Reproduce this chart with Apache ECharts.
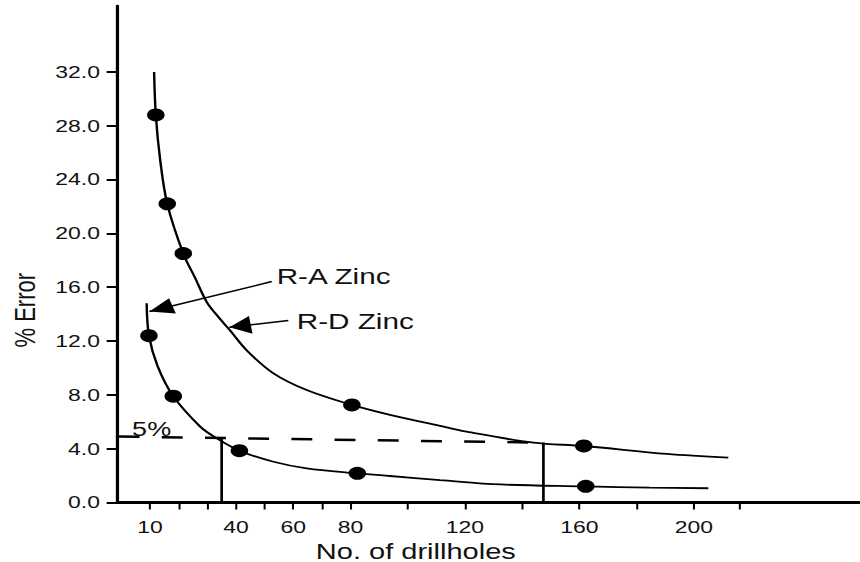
<!DOCTYPE html>
<html><head><meta charset="utf-8">
<script src="https://cdn.jsdelivr.net/npm/echarts@6/dist/echarts.min.js"></script>
<style>
html,body{margin:0;padding:0;background:#fff;overflow:hidden;width:860px;height:562px;}
#wrap{width:860px;height:562px;overflow:hidden;}
#main{width:637px;height:562px;transform:scaleX(1.35008);transform-origin:0 0;}
</style></head><body><div id="wrap"><div id="main"></div></div>
<script>
// ---- data ----
const xTickValues = [10, 20, 30, 40, 50, 60, 70, 80, 100, 120, 140, 160, 180, 200, 216];
const xLabelValues = [10, 40, 60, 80, 120, 160, 200];
const yTickValues = [0, 4, 8, 12, 16, 20, 24, 28, 32];

const rdPointX = [12.0, 16.0, 21.6, 80.5, 161.5];
const rdPointY = [28.8, 22.2, 18.5, 7.25, 4.2];
const raPointX = [9.6, 18.1, 41.2, 82.4, 162.2];
const raPointY = [12.4, 7.9, 3.85, 2.17, 1.2];

const rdCurveX = [11.4, 12.0, 13.5, 16.0, 21.6, 25.7, 29.8, 33.8, 37.9, 43.8, 53.1, 64.7, 80.5, 93.8, 111.3, 120.6, 143.9, 161.5, 190.5, 212.0];
const rdCurveY = [32.0, 28.8, 25.5, 22.2, 18.5, 16.7, 14.9, 13.8, 12.8, 11.3, 9.6, 8.36, 7.25, 6.51, 5.69, 5.26, 4.45, 4.2, 3.61, 3.33];
const raCurveX = [8.8, 9.6, 12.6, 18.1, 27.5, 33.3, 41.2, 53.1, 64.7, 82.4, 93.8, 111.3, 132.5, 162.2, 184.6, 205.0];
const raCurveY = [14.8, 12.4, 10.15, 7.9, 5.64, 4.77, 3.85, 3.03, 2.54, 2.17, 1.97, 1.67, 1.34, 1.2, 1.10, 1.06];

const fivePctX = [-1.0, 147.4];
const fivePctY = [4.9, 4.45];
const dropX = [35.0, 147.4];
const dropTopY = [4.8, 4.45];

const noteText = ['R-A Zinc', 'R-D Zinc', '5%'];
const noteX = [54.2, 61.2, 3.7];
const noteY = [16.77, 13.49, 5.45];
const arrowTailX = [52.5, 58.3];
const arrowTailY = [16.42, 13.52];
const arrowTipX = [9.75, 37.7];
const arrowTipY = [14.19, 13.03];

// ---- chart ----
const FONT = "'Liberation Sans', Arial, sans-serif";
const zip = (xs, ys) => xs.map((x, i) => [x, ys[i]]);
const chart = echarts.init(document.getElementById('main'), null, {renderer: 'svg'});

const dropSeries = dropX.map((x, i) => ({
  type: 'line', silent: true, showSymbol: false, symbol: 'none',
  data: [[x, dropTopY[i]], [x, 0]],
  lineStyle: {color: '#000', width: 2}
}));

const option = {
  backgroundColor: '#fff',
  animation: false,
  grid: {left: 87, right: 0, top: 6, bottom: 59.5, containLabel: false, outerBoundsMode: 'none'},
  xAxis: {
    type: 'value', min: -1.4, max: 258,
    axisLine: {show: true, onZero: false, lineStyle: {color: '#000', width: 3}},
    axisTick: {show: true, customValues: xTickValues, length: 7, lineStyle: {color: '#000', width: 1.5}},
    axisLabel: {customValues: xLabelValues, margin: 16, color: '#111', fontSize: 17, fontFamily: FONT},
    splitLine: {show: false},
    name: 'No. of drillholes', nameLocation: 'middle', nameGap: 35,
    nameTextStyle: {fontSize: 21.5, color: '#111', fontFamily: FONT, padding: [0, 108, 0, 0]}
  },
  yAxis: {
    type: 'value', min: 0, max: 36.9,
    axisLine: {show: true, onZero: false, lineStyle: {color: '#000', width: 2.4}},
    axisTick: {show: true, customValues: yTickValues, length: 8, lineStyle: {color: '#000', width: 2}},
    axisLabel: {customValues: yTickValues, margin: 13, color: '#111', fontSize: 17, fontFamily: FONT,
      formatter: v => Number(v).toFixed(1)},
    splitLine: {show: false},
    name: '% Error', nameLocation: 'middle', nameRotate: 90, nameGap: 58,
    nameTextStyle: {fontSize: 22, color: '#111', fontFamily: FONT, padding: [0, 112, 0, 0]}
  },
  series: [
    {type: 'line', name: 'R-D Zinc', data: zip(rdCurveX, rdCurveY), smooth: 0.35,
      showSymbol: false, symbol: 'none', silent: true, lineStyle: {color: '#000', width: 1.8}},
    {type: 'line', name: 'R-A Zinc', data: zip(raCurveX, raCurveY), smooth: 0.35,
      showSymbol: false, symbol: 'none', silent: true, lineStyle: {color: '#000', width: 1.8}},
    {type: 'scatter', data: zip(rdPointX, rdPointY), symbolSize: 13, silent: true, itemStyle: {color: '#000', opacity: 1}},
    {type: 'scatter', data: zip(raPointX, raPointY), symbolSize: 13, silent: true, itemStyle: {color: '#000', opacity: 1}},
    {type: 'line', data: zip(fivePctX, fivePctY), showSymbol: false, symbol: 'none', silent: true,
      lineStyle: {color: '#000', width: 2.5, type: [15.5, 16.5]},
      markLine: {
        silent: true, animation: false, symbol: ['none', 'triangle'],
        label: {show: false},
        lineStyle: {color: '#000', width: 1.5, type: 'solid'},
        emphasis: {disabled: true},
        data: [
          [{coord: [arrowTailX[0], arrowTailY[0]], symbol: 'none'},
           {coord: [arrowTipX[0], arrowTipY[0]], symbol: 'triangle', symbolSize: [16, 18], symbolOffset: [0, 9]}],
          [{coord: [arrowTailX[1], arrowTailY[1]], symbol: 'none'},
           {coord: [arrowTipX[1], arrowTipY[1]], symbol: 'triangle', symbolSize: [18, 16], symbolOffset: [0, 8]}]
        ]
      },
      markPoint: {
        silent: true, animation: false, symbol: 'circle', symbolSize: 0.1,
        itemStyle: {color: 'rgba(0,0,0,0)'},
        label: {show: true, position: 'right', distance: 0, formatter: '{b}', color: '#111', fontFamily: FONT, fontSize: 22},
        data: noteText.map((t, i) => ({
          name: t, coord: [noteX[i], noteY[i]],
          label: i === 2 ? {fontSize: 20} : {}
        }))
      }
    }
  ].concat(dropSeries)
};
chart.setOption(option);
</script></body></html>
